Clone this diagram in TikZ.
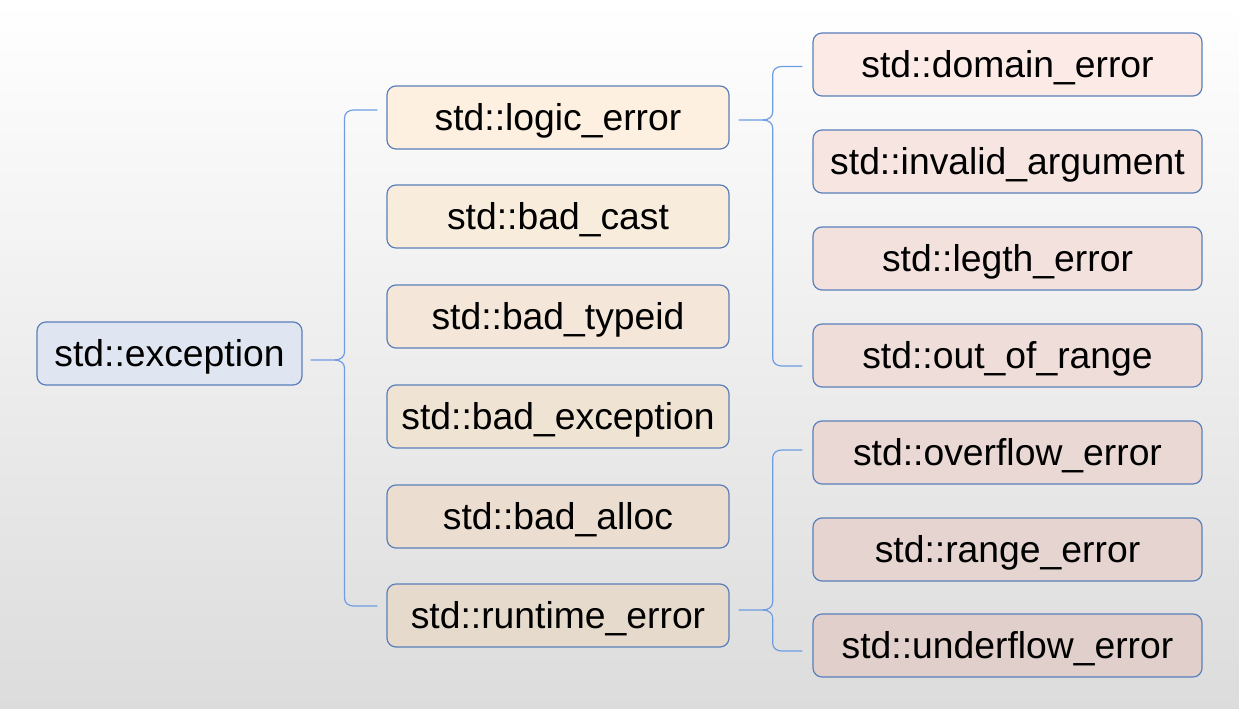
\documentclass[tikz,border=0pt]{standalone}
\usepackage{fontspec}
\setmainfont{Liberation Sans}
\usetikzlibrary{calc}
\definecolor{bdr}{HTML}{5B7FBA}
\definecolor{lnk}{HTML}{6E9DE3}
\definecolor{rootf}{HTML}{DFE6F1}
\definecolor{mtop}{HTML}{FDF0E1}
\definecolor{mbot}{HTML}{E6DACC}
\definecolor{rtop}{HTML}{FBEAE6}
\definecolor{rbot}{HTML}{E1CFCC}
\definecolor{bgmid}{HTML}{F3F3F3}
\definecolor{bgbot}{HTML}{DCDCDC}
\newcommand\mybrace[4]{%
 \coordinate (bc) at (#2 |- #1);
 \coordinate (bt) at (#2 |- #3);
 \coordinate (bb) at (#2 |- #4);
 \draw[brace] (#1) -- ($(bc)+(-10,0)$) .. controls +(7,0) and +(0,4) .. ($(bc)+(0,-8)$) -- ($(bt)+(0,8)$) .. controls +(0,-5) and +(-5,0) .. ($(bt)+(9,0)$) -- (#3);
 \draw[brace] ($(bc)+(-10,0)$) .. controls +(7,0) and +(0,-4) .. ($(bc)+(0,8)$) -- ($(bb)+(0,-8)$) .. controls +(0,5) and +(-5,0) .. ($(bb)+(9,0)$) -- (#4);
}
\begin{document}
\begin{tikzpicture}[x=1pt,y=-1pt,
  box/.style={draw=bdr, line width=1.2pt, rounded corners=9pt, minimum height=63pt, inner sep=0pt, text height=30pt, text depth=4pt, font=\fontsize{37.3}{44}\selectfont, text=black},
  midbox/.style={box, minimum width=342pt},
  leafbox/.style={box, minimum width=389pt},
  brace/.style={draw=lnk, line width=1.2pt}]
\shade[top color=white, middle color=bgmid, bottom color=bgbot] (0,0) rectangle (1239,709);
\useasboundingbox (0,0) rectangle (1239,709);

\node[box, fill=rootf, minimum width=265pt] (root) at (169.5,353.5) {std::exception};

\node[midbox, fill=mtop!100!mbot] (logic) at (558,117.5) {std::logic\_error};
\node[midbox, fill=mtop!80!mbot] (cast) at (558,216.5) {std::bad\_cast};
\node[midbox, fill=mtop!60!mbot] (typeid) at (558,316.5) {std::bad\_typeid};
\node[midbox, fill=mtop!40!mbot] (bexc) at (558,416.5) {std::bad\_exception};
\node[midbox, fill=mtop!20!mbot] (alloc) at (558,516.5) {std::bad\_alloc};
\node[midbox, fill=mtop!0!mbot] (runtime) at (558,615.5) {std::runtime\_error};

\node[leafbox, fill=rtop!100!rbot] (domain) at (1007.5,64.5) {std::domain\_error};
\node[leafbox, fill=rtop!83!rbot] (invalid) at (1007.5,161.5) {std::invalid\_argument};
\node[leafbox, fill=rtop!67!rbot] (length) at (1007.5,258.5) {std::legth\_error};
\node[leafbox, fill=rtop!50!rbot] (oor) at (1007.5,355.5) {std::out\_of\_range};
\node[leafbox, fill=rtop!33!rbot] (overflow) at (1007.5,452.5) {std::overflow\_error};
\node[leafbox, fill=rtop!17!rbot] (range) at (1007.5,549.5) {std::range\_error};
\node[leafbox, fill=rtop!0!rbot] (underflow) at (1007.5,645.5) {std::underflow\_error};

% root brace
\coordinate (s1) at ($(root.east)+(8,6.5)$);
\coordinate (v1) at ($(root.east)!0.5!(logic.west)$);
\coordinate (t1) at ($(logic.west)+(-9,-7.5)$);
\coordinate (b1) at ($(runtime.west)+(-9,-9.5)$);
\mybrace{s1}{v1}{t1}{b1}

% logic brace
\coordinate (s2) at ($(logic.east)+(9,2.5)$);
\coordinate (v2) at ($(logic.east)!0.52!(domain.west)$);
\coordinate (t2) at ($(domain.west)+(-10,2)$);
\coordinate (b2) at ($(oor.west)+(-10,10.5)$);
\mybrace{s2}{v2}{t2}{b2}

% runtime brace
\coordinate (s3) at ($(runtime.east)+(9,-5.5)$);
\coordinate (v3) at ($(runtime.east)!0.52!(overflow.west)$);
\coordinate (t3) at ($(overflow.west)+(-10,-2.5)$);
\coordinate (b3) at ($(underflow.west)+(-10,5.5)$);
\mybrace{s3}{v3}{t3}{b3}
\end{tikzpicture}
\end{document}
